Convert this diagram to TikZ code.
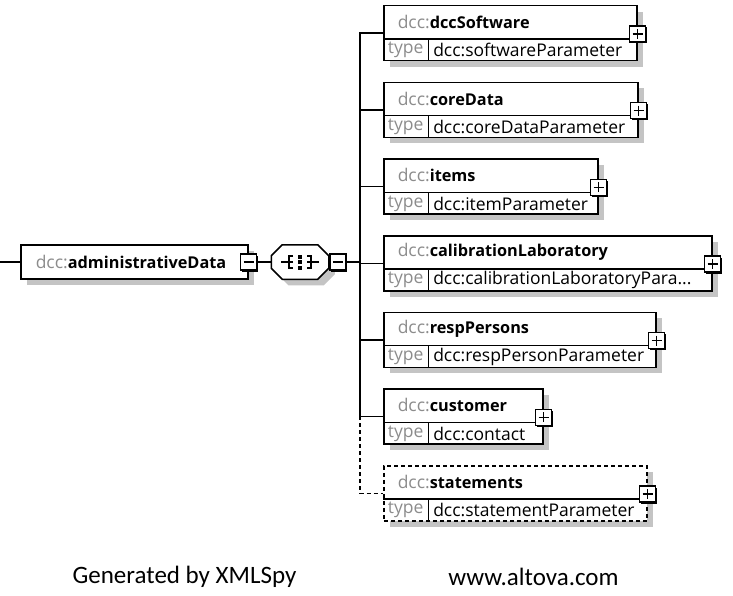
\documentclass[tikz,border=0pt]{standalone}
\usepackage{fontspec}
\setmainfont{Open Sans}[BoldFeatures={Scale=0.93}]
\newfontfamily\genfont{Carlito}
\usepackage{tikz}
\usetikzlibrary{positioning, shadows}
\definecolor{dccgray}{HTML}{8C8C8C}
\definecolor{shadowgray}{HTML}{C4C4C4}

\begin{document}
\begin{tikzpicture}[x=1pt, y=-1pt, line width=1.5pt, font=\fontsize{17.5}{20}\selectfont,
  boxshadow/.style={drop shadow={shadow xshift=6pt, shadow yshift=-6pt, fill=shadowgray, opacity=1}},
  elem/.style={draw, fill=white, boxshadow, minimum height=55pt, inner sep=0pt, anchor=north west},
  req/.style={solid},
  opt/.style={dash pattern=on 4pt off 3pt},
  lbl/.style={inner sep=0pt, anchor=west},
  typecell/.style={inner sep=0pt, minimum width=44pt, minimum height=21pt, anchor=south west, text=dccgray},
  pmbox/.style={draw, solid, fill=white, minimum size=16pt, inner sep=0pt,
    drop shadow={shadow xshift=1.5pt, shadow yshift=-1.5pt, fill=black, opacity=1}},
  plusbox/.style={pmbox, path picture={\draw ([xshift=3pt]path picture bounding box.west) -- ([xshift=-3pt]path picture bounding box.east)
    ([yshift=-3pt]path picture bounding box.north) -- ([yshift=3pt]path picture bounding box.south);}},
  minusbox/.style={pmbox, path picture={\draw ([xshift=3pt]path picture bounding box.west) -- ([xshift=-3pt]path picture bounding box.east);}},
  gen/.style={font=\genfont\fontsize{25}{30}\selectfont}]
  \useasboundingbox (0,0) rectangle (733,596);

  % root element
  \coordinate (in) at (0,262);
  \node[elem, minimum width=227pt, minimum height=34pt, anchor=west] (admin) at (20,262) {};
  \node[lbl] (admin-name) at ([xshift=15pt]admin.west) {{\color{dccgray}dcc:}\textbf{administrativeData}};
  \node[minusbox] (admin-minus) at (admin.east) {};
  \draw (in) -- (admin);

  % sequence compositor
  \node[minimum width=56pt, minimum height=33pt, inner sep=0pt] (seq) at (300,262) {};
  \draw[fill=white, boxshadow] ([xshift=11pt]seq.north west) -- ([xshift=-11pt]seq.north east)
    -- ([yshift=-11pt]seq.north east) -- ([yshift=11pt]seq.south east) -- ([xshift=-11pt]seq.south east)
    -- ([xshift=11pt]seq.south west) -- ([yshift=11pt]seq.south west) -- ([yshift=-11pt]seq.north west) -- cycle;
  \draw ([xshift=-19pt]seq.center) -- ([xshift=-7pt]seq.center)
    ([shift={(-7pt,6pt)}]seq.center) -- ([shift={(-11pt,6pt)}]seq.center) -- ([shift={(-11pt,-6pt)}]seq.center) -- ([shift={(-7pt,-6pt)}]seq.center)
    ([xshift=19pt]seq.center) -- ([xshift=7pt]seq.center)
    ([shift={(7pt,6pt)}]seq.center) -- ([shift={(11pt,6pt)}]seq.center) -- ([shift={(11pt,-6pt)}]seq.center) -- ([shift={(7pt,-6pt)}]seq.center);
  \foreach \dy in {-5.5,0,5.5}
    \fill ([yshift=\dy pt]seq.center) +(-2pt,-2pt) rectangle +(2pt,2pt);
  \node[minusbox] (seq-minus) at ([xshift=9pt]seq.east) {};
  \draw (admin-minus) -- (seq);
  \coordinate (trunk) at (360,262);
  \draw (seq-minus) -- (trunk);

  % child elements
  \foreach \nm/\bw/\lbl/\typ/\st [count=\i from 0] in {
      soft/253/dccSoftware/softwareParameter/req,
      core/254/coreData/coreDataParameter/req,
      items/214/items/itemParameter/req,
      calLab/328/calibrationLaboratory/{calibrationLaboratoryPara...}/req,
      resp/272/respPersons/respPersonParameter/req,
      cust/159/customer/contact/req,
      stat/263/statements/statementParameter/opt}{
    \node[elem, \st, minimum width=\bw pt] (\nm) at (383,{5+76.67*\i}) {};
    \node[lbl] (\nm-name) at ([xshift=14pt, yshift=-17pt]\nm.north west) {{\color{dccgray}dcc:}\textbf{\lbl}};
    \node[typecell] (\nm-t) at (\nm.south west) {type};
    \node[lbl] (\nm-val) at ([xshift=4pt]\nm-t.east) {dcc:\typ};
    \draw (\nm-t.north west) -- (\nm-t.north west -| \nm.east) (\nm-t.north east) -- (\nm-t.south east);
    \node[plusbox] (\nm-plus) at ([yshift=-29pt]\nm.north east) {};
    \draw[\st] (trunk) |- (\nm.west);
  }

  \node[gen] (gen) at (184.5,577) {Generated by XMLSpy};
  \node[gen] (web) at (533.5,577) {www.altova.com};
\end{tikzpicture}
\end{document}
